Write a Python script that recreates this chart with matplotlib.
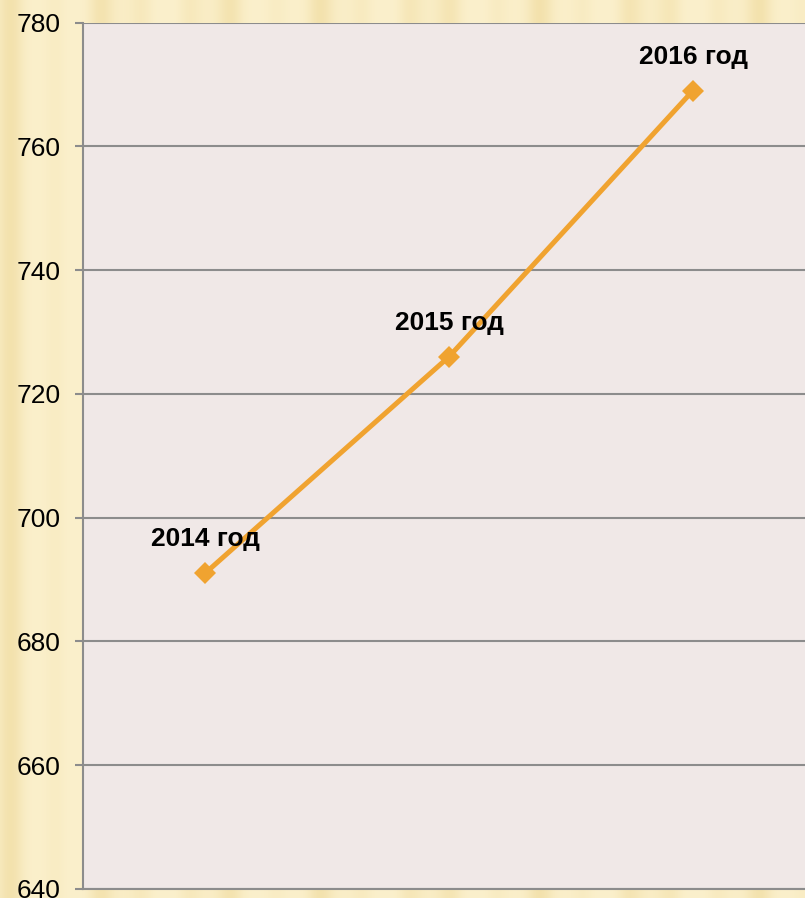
import numpy as np
import matplotlib
matplotlib.use("Agg")
import matplotlib.pyplot as plt
from matplotlib.colors import to_rgb

categories = ["2014 год", "2015 год", "2016 год"]
values = [691, 726, 769]
yticks = [640, 660, 680, 700, 720, 740, 760, 780]

plt.rcParams['font.family'] = ['Liberation Sans', 'DejaVu Sans']

W, H = 805, 898
fig = plt.figure(figsize=(W / 100, H / 100), dpi=100)

# decorative striped wallpaper background
bg = fig.add_axes([0, 0, 1, 1], zorder=-10)
xs = np.arange(W)
light = np.array(to_rgb("#FBF0CC"))
dark = np.array(to_rgb("#EED898"))
t = 0.5 + 0.25 * np.sin(xs / 7.0) + 0.25 * np.sin(xs / 17.0 + 1.3)
t = np.clip(t, 0, 1) ** 2
row = light[None, :] * (1 - t[:, None] * 0.6) + dark[None, :] * (t[:, None] * 0.6)
img = np.repeat(row[None, :, :], 10, axis=0)
bg.imshow(img, aspect='auto', extent=[0, 1, 0, 1], interpolation='bilinear')
bg.set_axis_off()

left = 83 / W
bottom = (H - 889) / H
height = (889 - 22.5) / H
width = 732 / W
ax = fig.add_axes([left, bottom, width, height])
ax.set_facecolor("#F0E8E7")

x = np.arange(len(categories)) + 0.5
ax.plot(x, values, color="#F0A330", lw=3.6, marker="D", ms=11,
        markeredgewidth=0, zorder=3, clip_on=False)
for xi, v, lab in zip(x, values, categories):
    ax.annotate(lab, (xi, v), xytext=(0, 24.5), textcoords='offset points',
                ha='center', va='center', fontsize=19, fontweight='bold',
                color='black', zorder=4)

ax.set_xlim(0, 3)
ax.set_ylim(640, 780)
ax.set_yticks(yticks)
ax.set_yticklabels([str(v) for v in yticks], fontsize=19)
ax.set_xticks([])
ax.grid(axis='y', color='#8C8C8C', lw=1.5)
ax.set_axisbelow(True)
for s in ['top', 'right']:
    ax.spines[s].set_visible(False)
for s in ['left', 'bottom']:
    ax.spines[s].set_color('#8C8C8C')
    ax.spines[s].set_linewidth(1.5)
ax.tick_params(axis='y', length=6, width=1.5, color='#8C8C8C', pad=10)

fig.savefig("out.png", dpi=100)
